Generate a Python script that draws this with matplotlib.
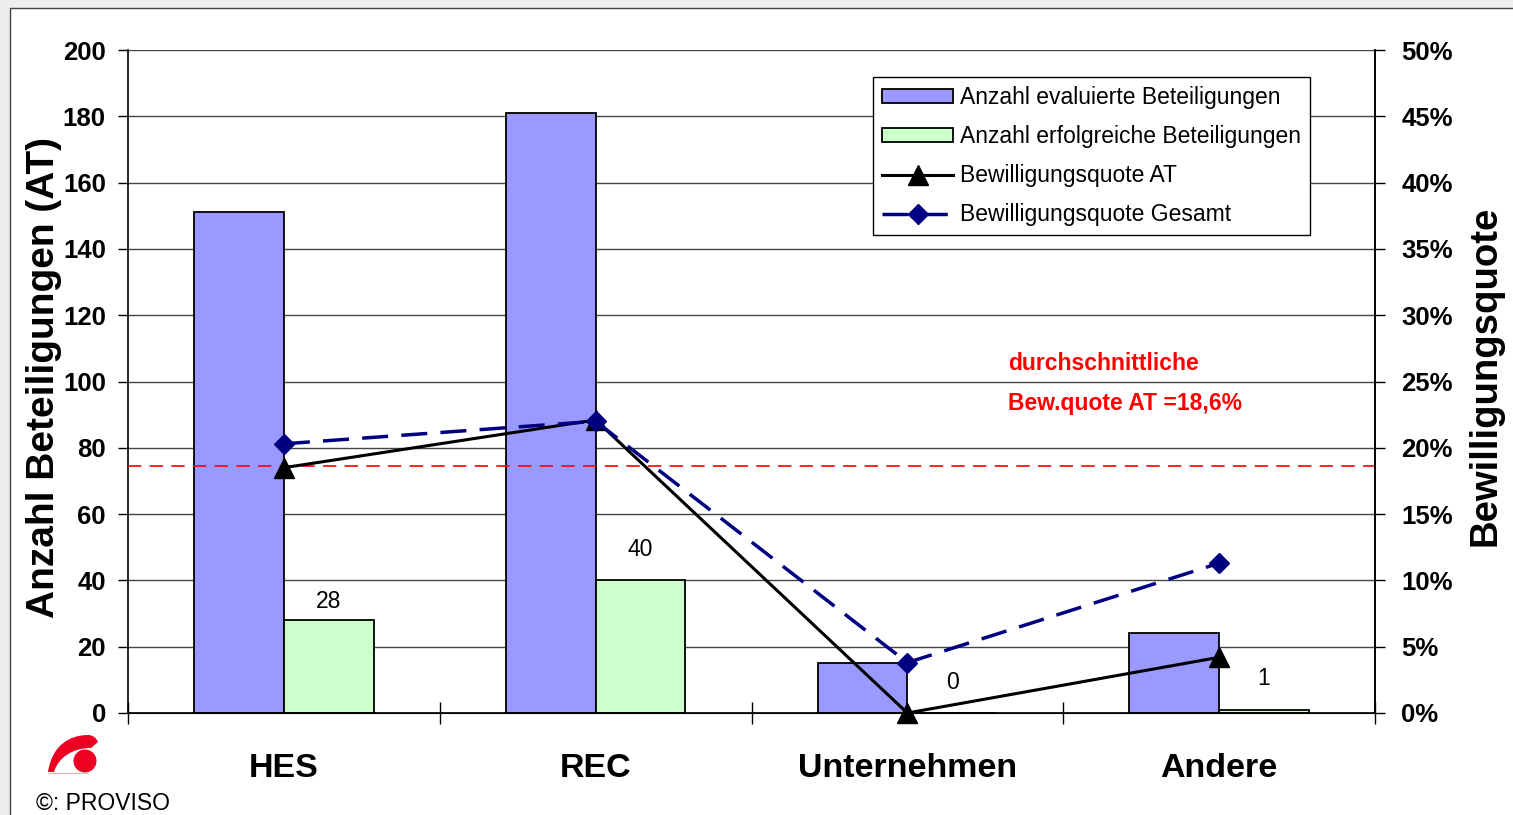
import numpy as np
import matplotlib
matplotlib.use("Agg")
import matplotlib.pyplot as plt
from matplotlib.patches import Rectangle, Circle, PathPatch
from matplotlib.path import Path
from matplotlib.ticker import PercentFormatter, FixedLocator, NullFormatter

# ---------------- data ----------------
categories = ["HES", "REC", "Unternehmen", "Andere"]
evaluated = [151, 181, 15, 24]          # Anzahl evaluierte Beteiligungen
successful = [28, 40, 0, 1]             # Anzahl erfolgreiche Beteiligungen
quote_at = [0.185, 0.221, 0.0, 0.042]   # Bewilligungsquote AT
quote_total = [0.203, 0.220, 0.038, 0.113]  # Bewilligungsquote Gesamt
avg_quote_at = 0.186
value_label_offsets = [5, 14, 14, 14]    # points above green bars

plt.rcParams['font.family'] = ['Liberation Sans', 'DejaVu Sans']

W, H = 1513, 815
fig = plt.figure(figsize=(W / 100, H / 100), dpi=100)
fig.patch.set_facecolor('#eeeeee')

# background panel / logo layer in pixel coords
bg = fig.add_axes([0, 0, 1, 1], zorder=-10)
bg.set_xlim(0, W)
bg.set_ylim(H, 0)
bg.axis('off')
bg.add_patch(Rectangle((10, 8), W + 50, H + 50, facecolor='white',
                       edgecolor='#444444', lw=1.0))
# logo
verts = [(48, 772), (52, 745), (70, 735), (88, 735),
         (95, 735), (98, 742), (91, 748),
         (72, 748), (58, 758), (54, 772),
         (48, 772)]
codes = [Path.MOVETO, Path.CURVE4, Path.CURVE4, Path.CURVE4,
         Path.CURVE3, Path.CURVE3, Path.LINETO,
         Path.CURVE4, Path.CURVE4, Path.CURVE4,
         Path.CLOSEPOLY]
bg.add_patch(PathPatch(Path(verts, codes), facecolor='#ee0022', edgecolor='none'))
bg.add_patch(Circle((85, 761), 11.5, facecolor='#ee0022', edgecolor='none'))
bg.plot([48, 88], [773, 773], color='#ffaaaa', lw=0.8)
bg.text(36, 804, "©: PROVISO", fontsize=16.5, ha='left', va='center', color='black')

# ---------------- main axes ----------------
L, B, R, T = 128, 713, 1375, 50
ax = fig.add_axes([L / W, (H - B) / H, (R - L) / W, (B - T) / H])
ax.set_facecolor('white')
x = np.arange(len(categories))
w = 0.288
ax.bar(x - w / 2, evaluated, width=w, color='#9999FF', edgecolor='black', lw=1.3,
       label='Anzahl evaluierte Beteiligungen', zorder=2)
ax.bar(x + w / 2, successful, width=w, color='#CCFFCC', edgecolor='black', lw=1.3,
       label='Anzahl erfolgreiche Beteiligungen', zorder=2)
for xi, v, off in zip(x, successful, value_label_offsets):
    ax.annotate(str(v), (xi + w / 2, v), xytext=(0, off), textcoords='offset points',
                ha='center', va='bottom', fontsize=16.5)

ax.set_xlim(-0.5, len(categories) - 0.5)
ax.set_ylim(0, 200)
ax.set_yticks(np.arange(0, 201, 20))
ax.yaxis.grid(True, color='#444444', lw=1.0)
ax.set_axisbelow(True)
ax.tick_params(axis='y', direction='out', length=7, width=1, pad=9, labelsize=18.5)
for lab in ax.get_yticklabels():
    lab.set_fontweight('bold')
ax.xaxis.set_major_locator(FixedLocator(np.arange(-0.5, len(categories), 1.0)))
ax.xaxis.set_major_formatter(NullFormatter())
ax.xaxis.set_minor_locator(FixedLocator(x))
ax.set_xticklabels(categories, minor=True, fontsize=24.5, fontweight='bold')
ax.tick_params(axis='x', which='major', direction='inout', length=16, width=1)
ax.tick_params(axis='x', which='minor', length=0, pad=29)
ax.spines['top'].set_visible(False)
for s in ['left', 'bottom', 'right']:
    ax.spines[s].set_linewidth(1.2)

# ---------------- secondary axis ----------------
ax2 = ax.twinx()
ax2.set_ylim(0, 0.5)
ax2.set_yticks(np.arange(0, 0.501, 0.05))
ax2.yaxis.set_major_formatter(PercentFormatter(1.0, decimals=0))
ax2.tick_params(axis='y', direction='out', length=7, width=1, pad=12, labelsize=18.5)
for lab in ax2.get_yticklabels():
    lab.set_fontweight('bold')
ax2.spines['top'].set_visible(False)
ax2.spines['left'].set_visible(False)
ax2.spines['right'].set_linewidth(1.2)

ax2.axhline(avg_quote_at, color='red', lw=1.2, dashes=(8, 5), zorder=1)
ax2.plot(x, quote_at, color='black', lw=2.2, marker='^', markersize=14,
         label='Bewilligungsquote AT', clip_on=False, zorder=3)
ax2.plot(x, quote_total, color='#000080', lw=2.5, dashes=(7.5, 3.8), marker='D',
         markersize=10, label='Bewilligungsquote Gesamt', clip_on=False, zorder=4)

ax2.text((1008 - L) / (R - L), (B - 363) / (B - T), "durchschnittliche",
         transform=ax2.transAxes, color='red', fontsize=16.5, fontweight='bold',
         ha='left', va='center')
ax2.text((1008 - L) / (R - L), (B - 403) / (B - T), "Bew.quote AT =18,6%",
         transform=ax2.transAxes, color='red', fontsize=16.5, fontweight='bold',
         ha='left', va='center')

h1, l1 = ax.get_legend_handles_labels()
h2, l2 = ax2.get_legend_handles_labels()
leg = ax2.legend(h1 + h2, l1 + l2, loc='upper left',
                 bbox_to_anchor=((873 - L) / (R - L), (B - 77) / (B - T)),
                 borderaxespad=0, fontsize=16.5, frameon=True, fancybox=False,
                 edgecolor='black', framealpha=1, handlelength=3.1, handleheight=0.6,
                 labelspacing=0.7, handletextpad=0.3, borderpad=0.4)
leg.get_frame().set_linewidth(1.0)
leg.set_zorder(10)

fig.text(44 / W, 1 - 378 / H, "Anzahl Beteiligungen (AT)", rotation=90,
         fontsize=28, fontweight='bold', ha='center', va='center')
fig.text(1485 / W, 1 - 376 / H, "Bewilligungsquote", rotation=90,
         fontsize=27.5, fontweight='bold', ha='center', va='center')

fig.savefig('out.png', dpi=100, facecolor=fig.get_facecolor())
